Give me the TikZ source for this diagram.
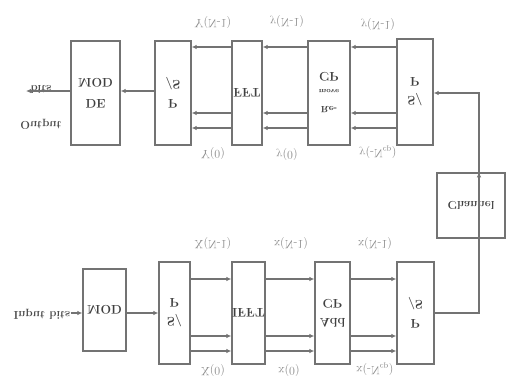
\documentclass[tikz,border=0pt]{standalone}
\usetikzlibrary{arrows.meta,calc}
\begin{document}
\begin{tikzpicture}[x=1pt,y=1pt,yscale=-1,transform shape,
  blk/.style={draw=black!55,line width=1.3pt,inner sep=0pt,align=center,
    font=\fontsize{12.5}{15}\selectfont\bfseries,text=black!75},
  conn/.style={draw=black!55,line width=1.1pt,-{Latex[length=5pt,width=4.5pt]}},
  lbl/.style={text=black!45,font=\fontsize{12}{14}\selectfont,inner sep=0pt},
  txt/.style={text=black!70,font=\fontsize{11.5}{13}\selectfont\bfseries,inner sep=0pt}]
\useasboundingbox[fill=white] (0,0) rectangle (511,378);
% receiver chain (top)
\node[blk,minimum width=49pt,minimum height=104pt] (demod) at (95.5,93) {DE\\[6pt]MOD};
\node[blk,minimum width=36pt,minimum height=104pt] (ps1) at (173,93) {P\\[4pt]/S};
\node[blk,minimum width=30pt,minimum height=104pt] (fft) at (247,93) {FFT};
\node[blk,minimum width=42pt,minimum height=104pt] (rcp) at (329,93)
  {{\fontsize{9}{10}\selectfont Re-}\\[2pt]{\fontsize{7}{8}\selectfont move}\\[2pt]CP};
\node[blk,minimum width=36pt,minimum height=106pt] (sp1) at (415,92) {S/\\[4pt]P};
\node[blk,minimum width=68pt,minimum height=65pt] (chan) at (471,205.5)
  {\fontsize{11.5}{13}\selectfont Channel};
% transmitter chain (bottom)
\node[blk,minimum width=43pt,minimum height=82pt] (mod) at (104.5,310) {MOD};
\node[blk,minimum width=31pt,minimum height=102pt] (sp2) at (174.5,313) {S/\\[4pt]P};
\node[blk,minimum width=33pt,minimum height=102pt] (ifft) at (248.5,313) {IFFT};
\node[blk,minimum width=35pt,minimum height=102pt] (acp) at (332.5,313) {Add\\[4pt]CP};
\node[blk,minimum width=37pt,minimum height=102pt] (ps2) at (415.5,313) {P\\[4pt]/S};
% texts
\node[txt] (inb) at (42,314) {Input bits};
\node[txt] (outb1) at (41,89) {bits};
\node[txt] (outb2) at (41,124) {Output};
\coordinate (outend) at (26,91);
\coordinate (cx) at (479,205);
% labels
\node[lbl] (l1) at (213,22) {Y(N-1)};
\node[lbl] (l2) at (213,153) {Y(0)};
\node[lbl] (l3) at (287,21) {y(N-1)};
\node[lbl] (l4) at (287,154) {y(0)};
\node[lbl] (l5) at (378,24) {y(N-1)};
\node[lbl] (l6) at (378,152) {y(-N$_{\mathrm{cp}}$)};
\node[lbl] (l7) at (213,243) {X(N-1)};
\node[lbl] (l8) at (213,370) {X(0)};
\node[lbl] (l9) at (291,243) {x(N-1)};
\node[lbl] (l10) at (289,370) {x(0)};
\node[lbl] (l11) at (375,243) {x(N-1)};
\node[lbl] (l12) at (375,369) {x(-N$_{\mathrm{cp}}$)};
% receiver connectors
\foreach \yy in {47,113,128} {
  \draw[conn] (sp1.west |- 0,\yy) -- (rcp.east |- 0,\yy);
  \draw[conn] (rcp.west |- 0,\yy) -- (fft.east |- 0,\yy);
  \draw[conn] (fft.west |- 0,\yy) -- (ps1.east |- 0,\yy);
}
\draw[conn] (ps1.west |- 0,91) -- (demod.east |- 0,91);
\draw[conn] (demod.west |- 0,91) -- (outend);
\draw[conn] (chan.north -| cx) |- (sp1.east |- 0,93);
% transmitter connectors
\draw[conn] (inb.east |- 0,313) -- (mod.west |- 0,313);
\draw[conn] (mod.east |- 0,313) -- (sp2.west |- 0,313);
\foreach \yy in {279,336,351} {
  \draw[conn] (sp2.east |- 0,\yy) -- (ifft.west |- 0,\yy);
  \draw[conn] (ifft.east |- 0,\yy) -- (acp.west |- 0,\yy);
  \draw[conn] (acp.east |- 0,\yy) -- (ps2.west |- 0,\yy);
}
\draw[conn] (ps2.east) -| (chan.south -| cx);
\end{tikzpicture}
\end{document}
